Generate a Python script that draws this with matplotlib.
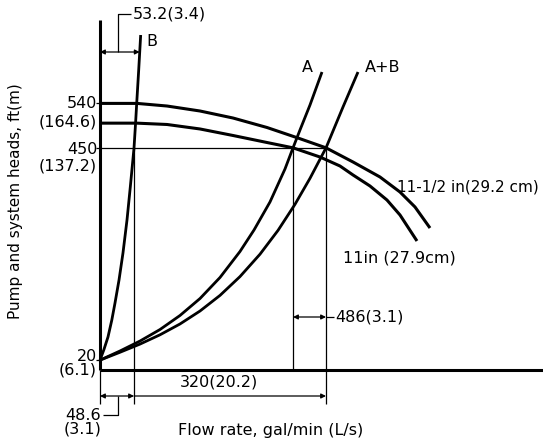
import matplotlib
matplotlib.use("Agg")
import matplotlib.pyplot as plt

# ---------------- data ----------------
# flow in gal/min (drawing scale), head in ft
B_q = [0, 6.3, 13.3, 19.7, 25, 31.7, 38.3, 45, 50.5, 56.7, 59.3, 61.2, 64.5, 67.8]
B_h = [20, 40.5, 66.8, 101.3, 135.7, 182.3, 237, 303.8, 370.7, 450, 500.3, 540.8, 607.7, 678.5]

A_q = [0, 33.3, 66.7, 100, 133.3, 166.7, 200, 233.3, 256.7, 283.3, 308.3, 321.7, 333.3, 350, 370]
A_h = [20, 38.5, 58.7, 82.0, 110.4, 144.8, 187.4, 240.0, 283.6, 340.3, 407.1, 450, 486.1, 536.8, 603.6]

AB_q = [0, 33.3, 66.7, 100, 133.3, 166.7, 200, 233.3, 266.7, 296.7, 325, 350, 376.7, 405, 430]
AB_h = [20, 35.9, 52.5, 71.3, 93.2, 119.5, 151.1, 189.2, 234.6, 282.8, 335.6, 388.3, 450, 532.7, 603.6]

P115_q = [0, 61.7, 111.7, 166.7, 221.7, 278.3, 330, 376.7, 421.7, 466.7, 500, 525, 550]
P115_h = [540, 540, 534.7, 524.6, 510.4, 491.2, 469.9, 450, 421.3, 390.9, 360.5, 330.2, 287.6]

P11_q = [0, 61.7, 111.7, 166.7, 221.7, 278.3, 321.7, 366.7, 400, 421.7, 450, 478.3, 500, 528.3]
P11_h = [500, 500, 497.3, 488.2, 475, 460.8, 450, 431.4, 413.2, 395, 372.7, 344.3, 314, 261.3]

tick_heads = [20, 450, 540]
tick_labels = ["20", "450", "540"]
tick_metric = ["(6.1)", "(137.2)", "(164.6)"]

op_head = 450
q_B_op = 56.7      # B at 450 ft
q_A_op = 321.7     # A at 450 ft
q_AB_op = 376.7    # A+B at 450 ft

dim_B_text = "53.2(3.4)"
dim_B_bottom = ["48.6", "(3.1)"]
dim_total_text = "320(20.2)"
dim_diff_text = "486(3.1)"

# ---------------- figure ----------------
W, H = 543, 444
fig = plt.figure(figsize=(W / 100, H / 100), dpi=100)
ax = fig.add_axes([0, 0, 1, 1])
KX, KY = 0.6, 0.4937          # px per unit
X0, Y0 = 100, 370             # pixel of origin
ax.set_xlim(-X0 / KX, (W - X0) / KX)
ax.set_ylim(-(H - Y0) / KY, Y0 / KY)
ax.axis("off")

FS = 11.5
FAM = ["DejaVu Sans"]
k = dict(color="black", solid_capstyle="butt", solid_joinstyle="round")

def q(px):
    return (px - X0) / KX

def h(py):
    return (Y0 - py) / KY

# axes lines
top_h = h(20)
ax.plot([0, 0], [0, top_h], lw=2.2, **k)
ax.plot([0, q(W + 5)], [0, 0], lw=2.2, **k)

# curves
ax.plot(P115_q, P115_h, lw=2.2, **k)
ax.plot(P11_q, P11_h, lw=2.2, **k)
ax.plot(B_q, B_h, lw=2.0, **k)
ax.plot(A_q, A_h, lw=2.0, **k)
ax.plot(AB_q, AB_h, lw=2.0, **k)

# thin construction lines
thin = 0.9
ax.plot([0, q_AB_op], [op_head, op_head], lw=thin, **k)
ax.plot([q_A_op, q_A_op], [op_head, 0], lw=thin, **k)
ext_h = h(404)
ax.plot([q_AB_op, q_AB_op], [op_head, ext_h], lw=thin, **k)
ax.plot([q_B_op, q_B_op], [op_head, ext_h], lw=thin, **k)
ax.plot([0, 0], [0, ext_h], lw=thin, **k)

# tick marks and labels
label_py = [356, 149, 103.5]
metric_py = [370, 166, 122]
for hv, lab, met, lp, mp in zip(tick_heads, tick_labels, tick_metric, label_py, metric_py):
    ax.plot([q(96), 0], [hv, hv], lw=thin, **k)
    ax.text(q(97.5), h(lp), lab, ha="right", va="center", fontsize=FS, family=FAM)
    ax.text(q(96.5), h(mp), met, ha="right", va="center", fontsize=FS, family=FAM)

arr = dict(arrowstyle="<|-|>", color="black", lw=thin, mutation_scale=7,
           shrinkA=0, shrinkB=0)
arr1 = dict(arrowstyle="-|>", color="black", lw=thin, mutation_scale=7,
            shrinkA=0, shrinkB=0)

# top dimension (B)
dh = h(52)
ax.annotate("", xy=(0, dh), xytext=(q(139.7), dh), arrowprops=arr)
ax.plot([q(118), q(118), q(131)], [dh, h(14), h(14)], lw=thin, **k)
ax.text(q(133), h(14), dim_B_text, ha="left", va="center", fontsize=FS, family=FAM)

# bottom dimensions
bh = h(396)
ax.annotate("", xy=(0, bh), xytext=(q_B_op, bh), arrowprops=arr)
ax.annotate("", xy=(q_AB_op, bh), xytext=(q_B_op, bh), arrowprops=arr1)
ax.plot([q(118), q(118), q(103)], [bh, h(415), h(415)], lw=thin, **k)
ax.text(q(101), h(415), dim_B_bottom[0], ha="right", va="center", fontsize=FS, family=FAM)
ax.text(q(101), h(429), dim_B_bottom[1], ha="right", va="center", fontsize=FS, family=FAM)
ax.text(q(219), h(382), dim_total_text, ha="center", va="center", fontsize=FS, family=FAM)

# difference dimension
mh = h(317)
ax.annotate("", xy=(q_A_op, mh), xytext=(q_AB_op, mh), arrowprops=arr)
ax.plot([q_AB_op, q(334)], [mh, mh], lw=thin, **k)
ax.text(q(335), mh, dim_diff_text, ha="left", va="center", fontsize=FS, family=FAM)

# curve labels
ax.text(q(152), h(42), "B", ha="center", va="center", fontsize=FS, family=FAM)
ax.text(q(307), h(67), "A", ha="center", va="center", fontsize=FS, family=FAM)
ax.text(q(383), h(67), "A+B", ha="center", va="center", fontsize=FS, family=FAM)
ax.text(q(397), h(187), "11-1/2 in(29.2 cm)", ha="left", va="center", fontsize=11, family=FAM)
ax.text(q(343), h(258), "11in (27.9cm)", ha="left", va="center", fontsize=FS, family=FAM)

# axis titles
ax.text(q(271), h(430), "Flow rate, gal/min (L/s)", ha="center", va="center",
        fontsize=FS, family=FAM)
ax.text(q(16), h(201), "Pump and system heads, ft(m)", ha="center", va="center",
        rotation=90, fontsize=11, family=FAM)

fig.savefig("out.png", dpi=100)
